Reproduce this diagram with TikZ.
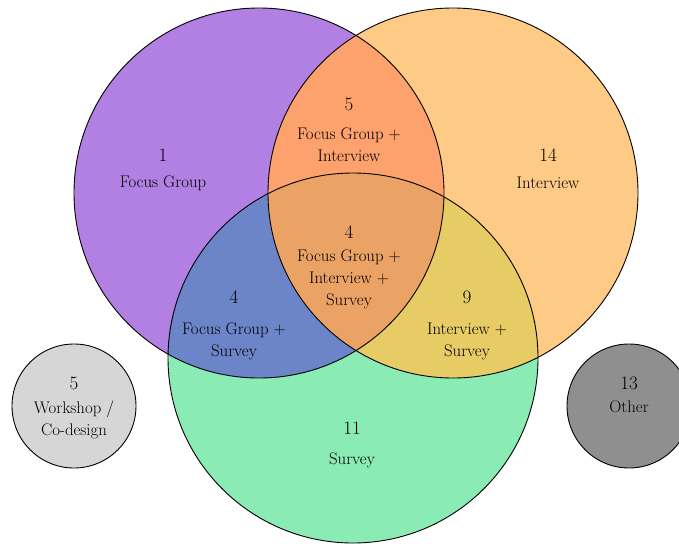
\documentclass[tikz,border=0pt]{standalone}
\usepackage{tikz}

\definecolor{fgpurple}{HTML}{B180E2}
\definecolor{ivorange}{HTML}{FECB86}
\definecolor{svgreen}{HTML}{8BEBB4}
\definecolor{fgiv}{HTML}{FDA26D}
\definecolor{fgsv}{HTML}{6C84C8}
\definecolor{ivsv}{HTML}{E7CB65}
\definecolor{allthree}{HTML}{EBA265}
\definecolor{wsgray}{HTML}{D6D6D6}
\definecolor{othergray}{HTML}{8F8F8F}

\begin{document}
\begin{tikzpicture}[x=1pt, y=-1pt,
  count/.style={font=\fontsize{19}{21}\selectfont, inner sep=0pt},
  setlabel/.style={font=\fontsize{16.8}{22}\selectfont, align=center, inner sep=0pt},
  rim/.style={draw=black, line width=0.9pt}]
  \useasboundingbox (0,0) rectangle (679,543);

  % Centres of the three sets, common radius
  \pgfmathsetmacro{\vennr}{185}
  \coordinate (FG) at (259,193);
  \coordinate (IV) at (453,193);
  \coordinate (SV) at (353,358);

  % Single sets
  \fill[fgpurple] (FG) circle (\vennr pt);
  \fill[ivorange] (IV) circle (\vennr pt);
  \fill[svgreen] (SV) circle (\vennr pt);

  % Pairwise overlaps
  \begin{scope}
    \clip (FG) circle (\vennr pt);
    \fill[fgiv] (IV) circle (\vennr pt);
    \fill[fgsv] (SV) circle (\vennr pt);
  \end{scope}
  \begin{scope}
    \clip (IV) circle (\vennr pt);
    \fill[ivsv] (SV) circle (\vennr pt);
  \end{scope}

  % Triple overlap
  \begin{scope}
    \clip (FG) circle (\vennr pt);
    \clip (IV) circle (\vennr pt);
    \fill[allthree] (SV) circle (\vennr pt);
  \end{scope}

  % Outlines
  \draw[rim] (FG) circle (\vennr pt);
  \draw[rim] (IV) circle (\vennr pt);
  \draw[rim] (SV) circle (\vennr pt);

  % Methods outside the diagram
  \filldraw[rim, fill=wsgray] (74,406) circle (62pt);
  \filldraw[rim, fill=othergray] (629,406) circle (62pt);

  % Counts and labels
  \node[count] (n-fg) at (163,155) {1};
  \node[setlabel] (l-fg) at (163,183) {Focus Group};

  \node[count] (n-iv) at (548,155) {14};
  \node[setlabel] (l-iv) at (548,183) {Interview};

  \node[count] (n-fgiv) at (349,104) {5};
  \node[setlabel] (l-fgiv) at (349,145) {Focus Group +\\Interview};

  \node[count] (n-all) at (349,232) {4};
  \node[setlabel] (l-all) at (349,279) {Focus Group +\\Interview +\\Survey};

  \node[count] (n-fgsv) at (234,297) {4};
  \node[setlabel] (l-fgsv) at (234,341) {Focus Group +\\Survey};

  \node[count] (n-ivsv) at (467,297) {9};
  \node[setlabel] (l-ivsv) at (467,341) {Interview +\\Survey};

  \node[count] (n-sv) at (352,428) {11};
  \node[setlabel] (l-sv) at (352,460) {Survey};

  \node[count] (n-ws) at (74,383) {5};
  \node[setlabel] (l-ws) at (74,420) {Workshop /\\Co-design};

  \node[count] (n-other) at (629,383) {13};
  \node[setlabel] (l-other) at (629,407) {Other};
\end{tikzpicture}
\end{document}
